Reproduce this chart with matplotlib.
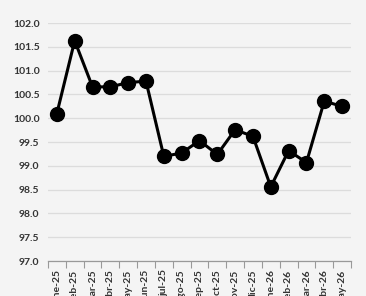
import numpy as np
import matplotlib
matplotlib.use("Agg")
import matplotlib.pyplot as plt

# month labels (Spanish) and index values
months = ["ene-25", "feb-25", "mar-25", "abr-25", "may-25", "jun-25",
          "jul-25", "ago-25", "sep-25", "oct-25", "nov-25", "dic-25",
          "ene-26", "feb-26", "mar-26", "abr-26", "may-26"]
values = [100.10, 101.63, 100.66, 100.66, 100.75, 100.78,
          99.20, 99.27, 99.53, 99.24, 99.76, 99.62,
          98.56, 99.32, 99.07, 100.36, 100.25]
yticks = [97.0, 97.5, 98.0, 98.5, 99.0, 99.5, 100.0, 100.5, 101.0, 101.5, 102.0]

plt.rcParams['font.family'] = ['Lato', 'DejaVu Sans']

bg = '#f4f4f4'
fig = plt.figure(figsize=(3.66, 2.96), dpi=100, facecolor=bg)
ax = fig.add_axes([0.131, 0.118, 0.828, 0.804])
ax.set_facecolor(bg)

x = np.arange(len(months))
ax.plot(x, values, color='black', lw=2.2, marker='o', markersize=10,
        zorder=3)

ax.set_xlim(-0.5, len(months) - 0.5)
ax.set_ylim(97, 102)
ax.set_yticks(yticks)
ax.set_yticklabels([f"{v:.1f}" for v in yticks], fontsize=7.5,
                   fontweight='bold', color='#333333')
ax.grid(axis='y', color='#dcdcdc', lw=0.9)
ax.set_axisbelow(True)

# category labels on major ticks, tick marks between categories
ax.set_xticks(x)
ax.set_xticklabels(months, rotation=90, fontsize=7.5, fontweight='bold',
                   color='#333333')
ax.set_xticks(np.arange(-0.5, len(months)), minor=True)
ax.tick_params(axis='x', which='major', length=0, pad=6)
ax.tick_params(axis='x', which='minor', length=5, color='#999999', width=0.8)
ax.tick_params(axis='y', length=0, pad=6)

for s in ['top', 'right', 'left']:
    ax.spines[s].set_visible(False)
ax.spines['bottom'].set_color('#999999')
ax.spines['bottom'].set_linewidth(0.9)

fig.savefig('out.png', dpi=100, facecolor=bg)
